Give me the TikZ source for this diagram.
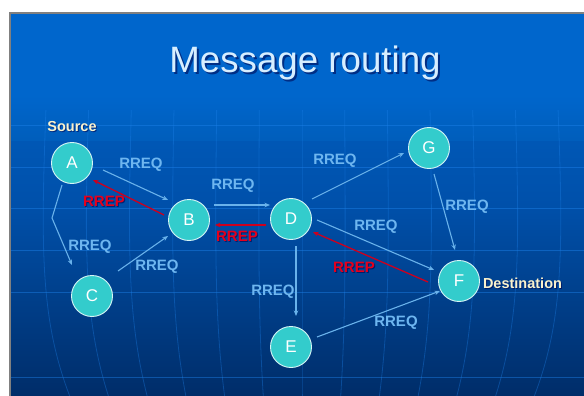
\documentclass[tikz,border=0pt]{standalone}
\usepackage{fontspec}
\setmainfont{Liberation Sans}
\usetikzlibrary{calc,arrows.meta}
\definecolor{bgtop}{RGB}{0,102,204}
\definecolor{bgmid}{RGB}{0,80,170}
\definecolor{bgbot}{RGB}{0,45,105}
\definecolor{nodefill}{RGB}{51,204,204}
\definecolor{reqcol}{RGB}{110,182,240}
\definecolor{reqline}{RGB}{105,178,235}
\definecolor{repcol}{RGB}{228,0,28}
\definecolor{repline}{RGB}{205,0,30}
\definecolor{cream}{RGB}{250,242,205}
\definecolor{titlecol}{RGB}{215,238,255}
\definecolor{gridcol}{RGB}{30,130,235}
\definecolor{framecol}{RGB}{128,128,128}
\tikzset{
  station/.style={circle, fill=nodefill, draw=white!80!nodefill, line width=0.9pt,
    minimum size=41pt, inner sep=0pt, text=white, font=\fontsize{17}{17}\selectfont},
  reqlabel/.style={text=reqcol, font=\bfseries\fontsize{15}{15}\selectfont, inner sep=0pt},
  replabel/.style={text=repcol, font=\bfseries\fontsize{15}{15}\selectfont, inner sep=0pt},
  endlabel/.style={text=cream, font=\bfseries\fontsize{14.5}{14.5}\selectfont, inner sep=0pt},
  shadowlabel/.style={text=black!70!blue, opacity=0.55, inner sep=0pt},
  reqarrow/.style={draw=reqline, line width=1.1pt, -{Stealth[length=5.5pt,width=4.5pt]}},
  reparrow/.style={draw=repline, line width=1.3pt, -{Stealth[length=5.5pt,width=4.5pt]}},
  gridline/.style={draw=gridcol, line width=0.8pt, opacity=0.45},
}
\begin{document}
\begin{tikzpicture}[x=1pt,y=-1pt]
\useasboundingbox (0,0) rectangle (584,396);
% slide background
\fill[white] (0,0) rectangle (584,396);
\shade[top color=bgtop, bottom color=bgbot, middle color=bgmid] (11,14) rectangle (584,396);
\fill[bgtop] (11,14) rectangle (584,95);
\shade[top color=bgtop, bottom color=bgtop!92!black] (11,95) rectangle (584,140);
\draw[framecol, line width=2pt] (10,396) -- (10,13) -- (584,13);
% grid
\foreach \y in {125,167,208,250,292,377}
  \draw[gridline] (11,\y) -- (584,\y);
\foreach \x in {38,82,126,170,214,258,302,346,390,434,478,522,566}
  \draw[gridline, opacity=0.35] ({302+(\x-302)*0.97},110) .. controls ({302+(\x-302)*0.99},250) and ({302+(\x-302)*0.99},320) .. ({302+(\x-302)*0.88},396);
% title
\node[shadowlabel, font=\fontsize{36.7}{36.7}\selectfont, anchor=base] (titleshadow) at (307,75) {Message routing};
\node[text=titlecol, font=\fontsize{36.7}{36.7}\selectfont, anchor=base, inner sep=0pt] (title) at (305,73) {Message routing};
% stations
\node[station] (A) at (72,163) {A};
\node[station] (B) at (189,220) {B};
\node[station] (C) at (92,296) {C};
\node[station] (D) at (291,219) {D};
\node[station] (G) at (429,148) {G};
\node[station] (F) at (459,281) {F};
\node[station] (E) at (291,347) {E};
% end labels
\node[shadowlabel, font=\bfseries\fontsize{14.5}{14.5}\selectfont] (sourceshadow) at (73,128) {Source};
\node[endlabel] (source) at (72,127) {Source};
\node[shadowlabel, font=\bfseries\fontsize{14.5}{14.5}\selectfont] (destshadow) at (523.5,284) {Destination};
\node[endlabel] (dest) at (522.5,283) {Destination};
% RREQ arrows
\coordinate (acbend) at (52,218);
\draw[reqarrow] ($(A)+(31,7)$) -- ($(B)+(-21,-20)$);
\draw[reqarrow] ($(B)+(25,-15)$) -- ($(D)+(-21,-14)$);
\draw[reqarrow] ($(A)+(-10,22)$) -- (acbend) -- ($(C)+(-20,-31)$);
\draw[reqarrow] ($(C)+(26,-25)$) -- ($(B)+(-21,16)$);
\draw[reqarrow] ($(D)+(21,-20)$) -- ($(G)+(-25,5)$);
\draw[reqarrow] ($(G)+(5,26)$) -- ($(F)+(-4,-31)$);
\draw[reqarrow] ($(D)+(26,1)$) -- ($(F)+(-25,-11)$);
\draw[reqarrow] ($(D)+(5,27)$) -- ($(E)+(5,-31)$);
\draw[reqarrow] ($(E)+(26,-10)$) -- ($(F)+(-19,10)$);
% RREP arrows
\draw[reparrow] ($(B)+(-25,-5)$) -- ($(A)+(21,17)$);
\draw[reparrow] ($(D)+(-25,6)$) -- ($(B)+(26,5)$);
\draw[reparrow] ($(F)+(-31,1)$) -- ($(D)+(22,13)$);
% RREQ labels
\node[reqlabel] (q1) at (141,165) {RREQ};
\node[reqlabel] (q2) at (233,186) {RREQ};
\node[reqlabel] (q3) at (90,247) {RREQ};
\node[reqlabel] (q4) at (157,267) {RREQ};
\node[reqlabel] (q5) at (335,161) {RREQ};
\node[reqlabel] (q6) at (467,207) {RREQ};
\node[reqlabel] (q7) at (376,227) {RREQ};
\node[reqlabel] (q8) at (273,292) {RREQ};
\node[reqlabel] (q9) at (396,323) {RREQ};
% RREP labels
\node[shadowlabel, font=\bfseries\fontsize{15}{15}\selectfont] (p1s) at (105,202) {RREP};
\node[replabel] (p1) at (104,201) {RREP};
\node[shadowlabel, font=\bfseries\fontsize{15}{15}\selectfont] (p2s) at (238,237) {RREP};
\node[replabel] (p2) at (237,236) {RREP};
\node[shadowlabel, font=\bfseries\fontsize{15}{15}\selectfont] (p3s) at (355,268) {RREP};
\node[replabel] (p3) at (354,267) {RREP};
\end{tikzpicture}
\end{document}
